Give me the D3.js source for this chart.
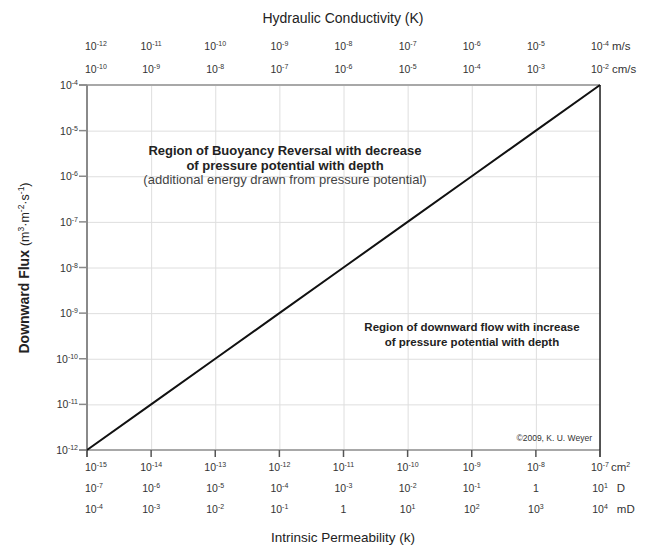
<!DOCTYPE html>
<html>
<head>
<meta charset="utf-8">
<script src="https://cdn.jsdelivr.net/npm/d3@7"></script>
<style>
  html, body { margin: 0; padding: 0; background: #fff; }
  svg { display: block; font-family: "Liberation Sans", Arial, sans-serif; }
</style>
</head>
<body>
<svg id="chart" width="647" height="548"></svg>
<script>
// Intrinsic permeability (cm²) and the matching downward flux (m³·m⁻²·s⁻¹)
const permeability = [1e-15, 1e-14, 1e-13, 1e-12, 1e-11, 1e-10, 1e-9, 1e-8, 1e-7];
const downwardFlux = [1e-12, 1e-11, 1e-10, 1e-9, 1e-8, 1e-7, 1e-6, 1e-5, 1e-4];

// Tick label exponents for each unit row
const permCm2Exp    = [-15, -14, -13, -12, -11, -10, -9, -8, -7];
const permDarcyExp  = [-7, -6, -5, -4, -3, -2, -1, 0, 1];
const permMilliDExp = [-4, -3, -2, -1, 0, 1, 2, 3, 4];
const condMsExp     = [-12, -11, -10, -9, -8, -7, -6, -5, -4];
const condCmsExp    = [-10, -9, -8, -7, -6, -5, -4, -3, -2];
const fluxExp       = [-4, -5, -6, -7, -8, -9, -10, -11, -12];

const svg = d3.select("#chart");
const plotLeft = 87, plotRight = 600, plotTop = 85, plotBottom = 450;
const labelSize = 10.5, supSize = 7;

const x = d3.scaleLog().domain([1e-15, 1e-7]).range([plotLeft, plotRight]);
const y = d3.scaleLog().domain([1e-12, 1e-4]).range([plotBottom, plotTop]);

// write 10^e (or "1") into a text element
function powerLabel(text, e) {
  if (e === 0) {
    text.append("tspan").text("1");
  } else {
    text.append("tspan").text("10");
    text.append("tspan").attr("font-size", supSize).attr("dy", -4).text(String(e));
  }
}

// gridlines
const grid = svg.append("g").attr("stroke", "#dedede").attr("stroke-width", 1);
grid.selectAll("line.v").data(permeability).join("line").attr("class", "v")
  .attr("x1", d => x(d) + 0.5).attr("x2", d => x(d) + 0.5)
  .attr("y1", plotTop).attr("y2", plotBottom);
grid.selectAll("line.h").data(downwardFlux).join("line").attr("class", "h")
  .attr("x1", plotLeft).attr("x2", plotRight)
  .attr("y1", d => y(d) + 0.5).attr("y2", d => y(d) + 0.5);

// frame
svg.append("line").attr("x1", plotLeft - 8).attr("x2", plotRight).attr("y1", plotTop).attr("y2", plotTop)
  .attr("stroke", "#a8a8a8").attr("stroke-width", 2);
svg.append("line").attr("x1", plotLeft - 8).attr("x2", plotRight).attr("y1", plotBottom).attr("y2", plotBottom)
  .attr("stroke", "#a8a8a8").attr("stroke-width", 2);
svg.append("line").attr("x1", plotLeft).attr("x2", plotLeft).attr("y1", plotTop).attr("y2", plotBottom + 7)
  .attr("stroke", "#8a8a8a").attr("stroke-width", 2);
svg.append("line").attr("x1", plotRight).attr("x2", plotRight).attr("y1", plotTop).attr("y2", plotBottom + 7)
  .attr("stroke", "#222").attr("stroke-width", 1.5);

// left ticks
svg.append("g").selectAll("line").data(downwardFlux).join("line")
  .attr("x1", plotLeft - 8).attr("x2", plotLeft).attr("y1", d => y(d)).attr("y2", d => y(d))
  .attr("stroke", "#8a8a8a").attr("stroke-width", 1.5);
// bottom ticks
svg.append("g").selectAll("line").data(permeability).join("line")
  .attr("x1", d => x(d)).attr("x2", d => x(d)).attr("y1", plotBottom).attr("y2", plotBottom + 7)
  .attr("stroke", "#555").attr("stroke-width", 1.5);

// flux line
const line = d3.line().x((d, i) => x(permeability[i])).y(d => y(d));
svg.append("path").datum(downwardFlux).attr("d", line)
  .attr("fill", "none").attr("stroke", "#111").attr("stroke-width", 2);

// y tick labels
fluxExp.forEach(e => {
  const t = svg.append("text").attr("x", plotLeft - 9).attr("y", y(Math.pow(10, e)) + 4)
    .attr("text-anchor", "end").attr("font-size", labelSize).attr("fill", "#333");
  powerLabel(t, e);
});

// label rows above and below the plot: numbers centred on the ticks,
// the first one kept inside the axis, the unit after the last one
function row(exps, yPos, unit, unitGap) {
  exps.forEach((e, i) => {
    const tick = x(permeability[i]);
    const t = svg.append("text").attr("y", yPos)
      .attr("font-size", labelSize).attr("fill", "#333");
    powerLabel(t, e);
    const w = t.node().getComputedTextLength();
    const x0 = i === 0 ? plotLeft - 2 : tick - w / 2;
    t.attr("x", x0);
    if (i === exps.length - 1 && unit) {
      const u = svg.append("text").attr("x", x0 + w + unitGap).attr("y", yPos)
        .attr("font-size", 11.5).attr("fill", "#333");
      if (unit === "cm2") {
        u.append("tspan").text("cm");
        u.append("tspan").attr("font-size", supSize).attr("dy", -4).text("2");
      } else {
        u.text(unit);
      }
    }
  });
}
row(condMsExp, 50, "m/s", 3);
row(condCmsExp, 73, "cm/s", 3);
row(permCm2Exp, 471, "cm2", 2);
row(permDarcyExp, 492, "D", 9);
row(permMilliDExp, 513, "mD", 9);

// axis titles
svg.append("text").attr("x", 343).attr("y", 23).attr("text-anchor", "middle")
  .attr("font-size", 14).attr("fill", "#222").text("Hydraulic Conductivity (K)");
svg.append("text").attr("x", 343).attr("y", 542).attr("text-anchor", "middle")
  .attr("font-size", 13.5).attr("fill", "#222").text("Intrinsic Permeability (k)");

const yt = svg.append("text").attr("transform", "translate(29,268) rotate(-90)")
  .attr("text-anchor", "middle").attr("font-size", 14).attr("fill", "#222");
yt.append("tspan").attr("font-weight", "bold").text("Downward Flux");
yt.append("tspan").attr("font-size", 12.5).attr("dx", 4).text("(m");
yt.append("tspan").attr("font-size", 8.5).attr("dy", -5).text("3");
yt.append("tspan").attr("font-size", 12.5).attr("dy", 5).text("·m");
yt.append("tspan").attr("font-size", 8.5).attr("dy", -5).text("-2");
yt.append("tspan").attr("font-size", 12.5).attr("dy", 5).text("·s");
yt.append("tspan").attr("font-size", 8.5).attr("dy", -5).text("-1");
yt.append("tspan").attr("font-size", 12.5).attr("dy", 5).text(")");

// region annotations
const upper = svg.append("g").attr("text-anchor", "middle").attr("fill", "#222");
upper.append("text").attr("x", 285).attr("y", 155).attr("font-size", 13).attr("font-weight", "bold")
  .text("Region of Buoyancy Reversal with decrease");
upper.append("text").attr("x", 285).attr("y", 170).attr("font-size", 13).attr("font-weight", "bold")
  .text("of pressure potential with depth");
upper.append("text").attr("x", 285).attr("y", 184).attr("font-size", 13).attr("fill", "#444")
  .text("(additional energy drawn from pressure potential)");

const lower = svg.append("g").attr("text-anchor", "middle").attr("fill", "#222");
lower.append("text").attr("x", 472).attr("y", 331).attr("font-size", 11.5).attr("font-weight", "bold")
  .text("Region of downward flow with increase");
lower.append("text").attr("x", 472).attr("y", 346).attr("font-size", 11.5).attr("font-weight", "bold")
  .text("of pressure potential with depth");

svg.append("text").attr("x", 592).attr("y", 441).attr("text-anchor", "end")
  .attr("font-size", 8.5).attr("fill", "#333").text("©2009, K. U. Weyer");
</script>
</body>
</html>
